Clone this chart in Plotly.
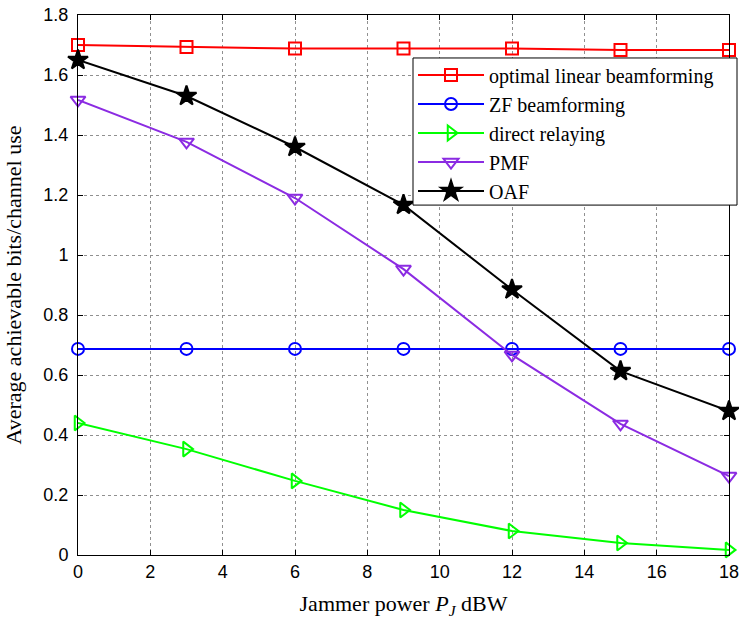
import plotly.graph_objects as go

x_vals = [0, 3, 6, 9, 12, 15, 18]
optimal = [1.70, 1.693, 1.688, 1.688, 1.688, 1.683, 1.683]
zf = [0.687, 0.687, 0.687, 0.687, 0.687, 0.687, 0.687]
direct = [0.44, 0.353, 0.247, 0.15, 0.08, 0.04, 0.017]
pmf = [1.517, 1.377, 1.19, 0.953, 0.667, 0.437, 0.263]
oaf = [1.65, 1.53, 1.36, 1.167, 0.885, 0.613, 0.48]

names = ["optimal linear beamforming", "ZF beamforming", "direct relaying", "PMF", "OAF"]
colors = ["#ff0000", "#0000ff", "#00ff00", "#8b2be2", "#000000"]
symbols = ["square-open", "circle-open", "triangle-right-open", "triangle-down-open", "star"]
sizes = [12, 12, 13, 13, 15]

fig = go.Figure()
for ys, n, c, s, sz in zip([optimal, zf, direct, pmf, oaf], names, colors, symbols, sizes):
    fig.add_trace(go.Scatter(
        x=x_vals, y=ys, name=n, mode="lines+markers",
        line=dict(color=c, width=2),
        marker=dict(symbol=s, size=sz, color=c, line=dict(color=c, width=2)),
        cliponaxis=False,
    ))

axis_common = dict(
    showline=True, linecolor="black", linewidth=1, mirror="ticks",
    ticks="inside", ticklen=5, tickcolor="black",
    showgrid=True, gridcolor="#909090", griddash="dot", gridwidth=1,
    zeroline=False, automargin=False, ticklabeloverflow="allow",
    tickfont=dict(family="Liberation Sans, Arial", size=18, color="black"),
)

title_font = dict(family="Liberation Serif, Times New Roman", size=22, color="black")

fig.update_layout(
    width=739, height=622,
    margin=dict(l=78, r=10, t=15, b=67),
    plot_bgcolor="white", paper_bgcolor="white",
    xaxis=dict(range=[0, 18], tickvals=list(range(0, 19, 2)),
               title=dict(text="Jammer power <i>P</i><sub><i>J</i></sub> dBW", font=title_font),
               **axis_common),
    yaxis=dict(range=[0, 1.8], tickvals=[0, 0.2, 0.4, 0.6, 0.8, 1, 1.2, 1.4, 1.6, 1.8],
               ticktext=["0", "0.2", "0.4", "0.6", "0.8", "1", "1.2", "1.4", "1.6", "1.8"],
               title=dict(text="Average achievable bits/channel use", font=title_font),
               ticklabelstandoff=5,
               **axis_common),
    legend=dict(x=0.5146, y=0.925, xanchor="left", yanchor="top",
                bgcolor="rgba(0,0,0,0)", borderwidth=0,
                font=dict(family="Liberation Serif, Times New Roman", size=20, color="black"),
                tracegroupgap=0, itemwidth=66),
    shapes=[dict(type="rect", xref="paper", yref="paper",
                 x0=0.5146, x1=1.0123, y0=0.648, y1=0.9204,
                 fillcolor="white", line=dict(color="black", width=1), layer="above")],
    showlegend=True,
)

fig.write_html("out.html", config={"displayModeBar": False},
               post_script="document.body.style.margin='0';document.body.style.overflow='hidden';")
